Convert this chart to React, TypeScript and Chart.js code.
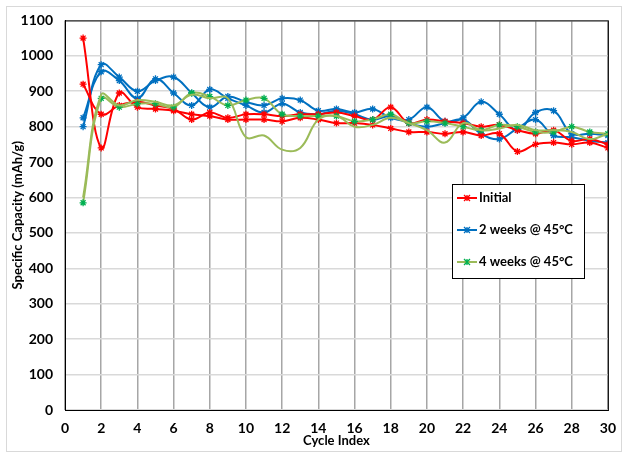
import React, { useEffect, useRef } from "react";
import { Chart, registerables } from "chart.js";

Chart.register(...registerables);

const cycles = [1,2,3,4,5,6,7,8,9,10,11,12,13,14,15,16,17,18,19,20,21,22,23,24,25,26,27,28,29,30];

const initialA = [1050,740,895,855,850,845,835,830,820,820,820,815,825,820,810,810,805,795,785,785,780,785,775,780,730,750,755,750,755,740];
const initialB = [920,835,860,870,860,850,820,840,825,835,835,830,835,835,840,830,820,855,810,820,815,810,800,805,790,780,790,760,765,750];
const twoWeeksA = [800,975,940,900,930,940,895,855,885,870,860,880,875,845,850,840,850,825,820,855,815,825,870,835,790,840,845,780,780,775];
const twoWeeksB = [825,955,930,880,935,895,860,905,880,860,840,865,840,835,845,835,820,830,810,800,810,820,780,765,795,820,775,770,760,755];
const fourWeeksA = [585,880,855,865,865,855,895,885,860,875,880,835,830,830,830,815,820,835,810,815,810,800,790,805,800,785,785,800,785,780];
const fourWeeksB = [600,890,860,875,870,860,890,880,880,770,775,735,740,820,830,800,805,825,810,790,755,810,790,795,805,790,790,785,765,780];

const legendLabels = ["Initial", "2 weeks @ 45°C", "4 weeks @ 45°C"];
const xTitle = "Cycle Index";
const yTitle = "Specific Capacity (mAh/g)";

const RED = "#FF0000";
const BLUE = "#0070C0";
const GREEN = "#00B050";
const OLIVE = "#9BBB59";
const FONT = "Lato, 'Liberation Sans', sans-serif";

const toPts = (arr: number[]) => arr.map((v, i) => ({ x: cycles[i], y: v }));

const legendPlugin = {
  id: "boxLegend",
  afterDraw(chart: any) {
    const ctx = chart.ctx;
    const x0 = 452, y0 = 184, w = 132, h = 94;
    ctx.save();
    ctx.fillStyle = "#fff";
    ctx.fillRect(x0, y0, w, h);
    ctx.strokeStyle = "#000";
    ctx.lineWidth = 1;
    ctx.strokeRect(x0 + 0.5, y0 + 0.5, w, h);
    const items = [
      { label: legendLabels[0], line: RED, mark: RED },
      { label: legendLabels[1], line: BLUE, mark: BLUE },
      { label: legendLabels[2], line: OLIVE, mark: GREEN },
    ];
    items.forEach((it, i) => {
      const cy = y0 + 14 + i * 32;
      ctx.strokeStyle = it.line;
      ctx.lineWidth = 2;
      ctx.beginPath();
      ctx.moveTo(x0 + 5, cy);
      ctx.lineTo(x0 + 25, cy);
      ctx.stroke();
      ctx.strokeStyle = it.mark;
      ctx.lineWidth = 1.3;
      const r = 3;
      const cx = x0 + 15;
      ctx.beginPath();
      ctx.moveTo(cx - r, cy - r); ctx.lineTo(cx + r, cy + r);
      ctx.moveTo(cx - r, cy + r); ctx.lineTo(cx + r, cy - r);
      ctx.moveTo(cx, cy - r); ctx.lineTo(cx, cy + r);
      ctx.stroke();
      ctx.fillStyle = "#000";
      ctx.font = "bold 13px " + FONT;
      ctx.textBaseline = "middle";
      ctx.textAlign = "left";
      ctx.fillText(it.label, x0 + 27, cy);
    });
    ctx.restore();
  },
};

const borderPlugin = {
  id: "plotBorder",
  afterDatasetsDraw(chart: any) {
    const { ctx, chartArea } = chart;
    ctx.save();
    ctx.strokeStyle = "#000";
    ctx.lineWidth = 1;
    ctx.strokeRect(chartArea.left + 0.5, chartArea.top + 0.5, chartArea.right - chartArea.left, chartArea.bottom - chartArea.top);
    ctx.restore();
  },
};

export default function App() {
  const ref = useRef<HTMLCanvasElement>(null);
  useEffect(() => {
    document.body.style.margin = "0";
    const ds = (label: string, data: number[], line: string, mark: string, showPts = true) => ({
      label,
      data: toPts(data),
      borderColor: line,
      backgroundColor: mark,
      pointBorderColor: mark,
      pointBackgroundColor: mark,
      borderWidth: 2,
      pointStyle: "star" as const,
      pointRadius: showPts ? 3.5 : 0,
      pointBorderWidth: 1.3,
      tension: 0.4,
      fill: false,
    });
    const chart = new Chart(ref.current!, {
      type: "line",
      data: {
        datasets: [
          ds(legendLabels[2] + " B", fourWeeksB, OLIVE, OLIVE, false),
          ds(legendLabels[2], fourWeeksA, OLIVE, GREEN),
          ds(legendLabels[0] + " B", initialB, RED, RED),
          ds(legendLabels[0], initialA, RED, RED),
          ds(legendLabels[1] + " B", twoWeeksB, BLUE, BLUE),
          ds(legendLabels[1], twoWeeksA, BLUE, BLUE),
        ],
      },
      options: {
        responsive: false,
        animation: false,
        layout: { padding: { left: 10, right: 8, top: 17, bottom: 6 } },
        plugins: { legend: { display: false }, tooltip: { enabled: false } },
        scales: {
          x: {
            type: "linear",
            min: 0,
            max: 30,
            ticks: { stepSize: 2, color: "#000", font: { family: FONT, size: 14, weight: "bold" }, padding: 10, callback: (v: any) => String(v) },
            grid: { color: "#A6A6A6", lineWidth: 1.5, drawTicks: false },
            border: { display: true, color: "#000" },
            title: { display: true, text: xTitle, color: "#000", font: { family: FONT, size: 13, weight: "bold" }, padding: { top: -6, bottom: 0 } },
            afterFit: (s: any) => { s.height = 39; },
          },
          y: {
            min: 0,
            max: 1100,
            ticks: { stepSize: 100, color: "#000", font: { family: FONT, size: 14, weight: "bold" }, padding: 12, callback: (v: any) => String(v) },
            grid: { color: "#D9D9D9", lineWidth: 1.5, drawTicks: false },
            border: { display: true, color: "#000" },
            title: { display: true, text: yTitle, color: "#000", font: { family: FONT, size: 13, weight: "bold" }, padding: { top: 0, bottom: 2 } },
            afterFit: (s: any) => { s.width = 55; },
          },
        },
      },
      plugins: [borderPlugin, legendPlugin],
    });
    return () => chart.destroy();
  }, []);
  return (
    <div style={{ position: "fixed", left: 0, top: 0, width: 626, height: 455, background: "#fff" }}>
      <div style={{ position: "absolute", left: 6, top: 6, width: 614, height: 444, border: "1px solid #D9D9D9" }} />
      <canvas ref={ref} width={626} height={455} style={{ position: "absolute", left: 0, top: 0 }} />
    </div>
  );
}
